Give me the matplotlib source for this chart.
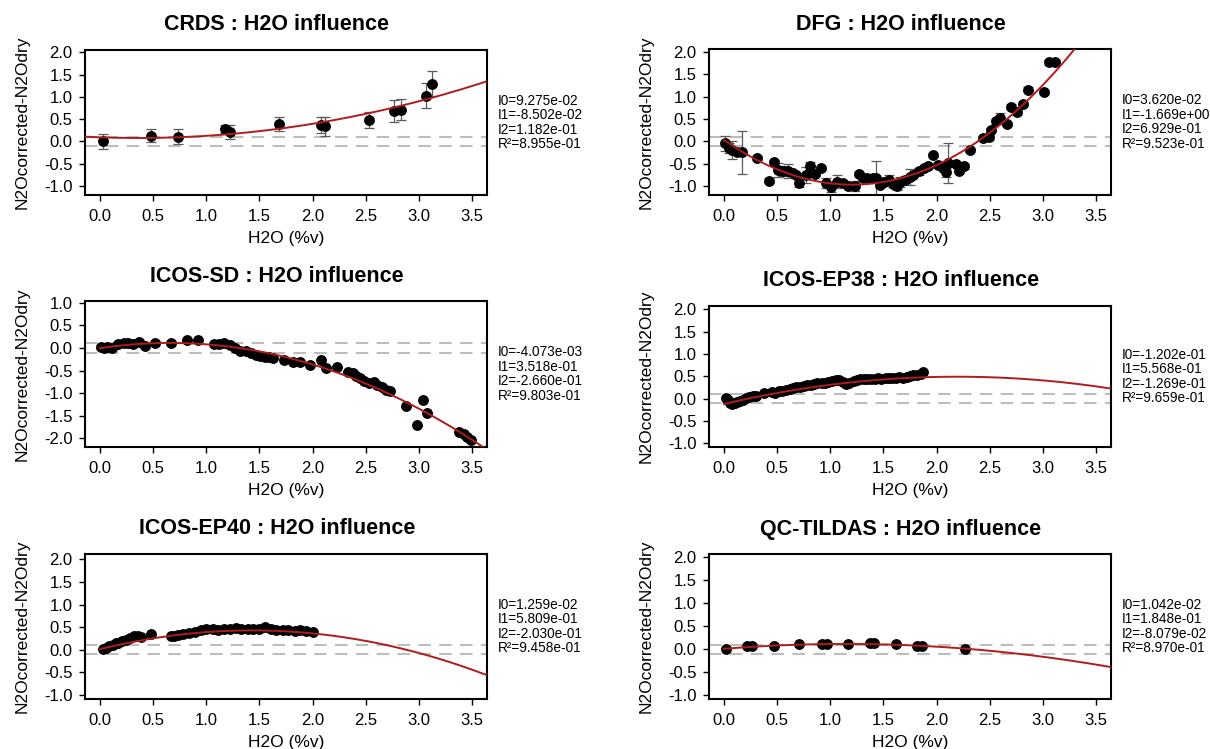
import numpy as np
import matplotlib
matplotlib.use("Agg")
import matplotlib.pyplot as plt

plt.rcParams['font.family'] = ['Liberation Sans', 'DejaVu Sans']

# ---------------- data ----------------
titles = ["CRDS : H2O influence", "DFG : H2O influence", "ICOS-SD : H2O influence",
          "ICOS-EP38 : H2O influence", "ICOS-EP40 : H2O influence", "QC-TILDAS : H2O influence"]

coef_text = [
    ["I0=9.275e-02", "I1=-8.502e-02", "I2=1.182e-01", "R\u00b2=8.955e-01"],
    ["I0=3.620e-02", "I1=-1.669e+00", "I2=6.929e-01", "R\u00b2=9.523e-01"],
    ["I0=-4.073e-03", "I1=3.518e-01", "I2=-2.660e-01", "R\u00b2=9.803e-01"],
    ["I0=-1.202e-01", "I1=5.568e-01", "I2=-1.269e-01", "R\u00b2=9.659e-01"],
    ["I0=1.259e-02", "I1=5.809e-01", "I2=-2.030e-01", "R\u00b2=9.458e-01"],
    ["I0=1.042e-02", "I1=1.848e-01", "I2=-8.079e-02", "R\u00b2=8.970e-01"],
]
# fit coefficients (I0, I1, I2)
I0 = [9.275e-02, 3.620e-02, -4.073e-03, -1.202e-01, 1.259e-02, 1.042e-02]
I1 = [-8.502e-02, -1.669e+00, 3.518e-01, 5.568e-01, 5.809e-01, 1.848e-01]
I2 = [1.182e-01, 6.929e-01, -2.660e-01, -1.269e-01, -2.030e-01, -8.079e-02]

# CRDS
crds_x = [0.03, 0.48, 0.73, 1.18, 1.22, 1.68, 2.08, 2.12, 2.53, 2.77, 2.83, 3.07, 3.12]
crds_y = [0.00, 0.13, 0.11, 0.28, 0.21, 0.39, 0.37, 0.34, 0.49, 0.69, 0.71, 1.03, 1.29]
crds_e = [0.16, 0.14, 0.16, 0.10, 0.16, 0.15, 0.17, 0.21, 0.18, 0.25, 0.24, 0.29, 0.28]

# DFG
dfg_x = [0.01, 0.05, 0.08, 0.12, 0.17, 0.31, 0.42, 0.47, 0.51, 0.56, 0.60, 0.65, 0.68,
         0.71, 0.77, 0.81, 0.86, 0.91, 0.96, 1.01, 1.06, 1.12, 1.17, 1.23, 1.27, 1.31,
         1.35, 1.40, 1.43, 1.47, 1.51, 1.55, 1.59, 1.63, 1.66, 1.70, 1.75, 1.78, 1.83,
         1.88, 1.92, 1.97, 2.01, 2.06, 2.09, 2.11, 2.18, 2.21, 2.26, 2.31, 2.44, 2.49,
         2.51, 2.56, 2.60, 2.66, 2.70, 2.76, 2.81, 2.86, 3.01, 3.06, 3.11]
dfg_y = [-0.04, -0.15, -0.20, -0.24, -0.24, -0.37, -0.88, -0.47, -0.64, -0.66, -0.67,
         -0.71, -0.75, -0.93, -0.76, -0.55, -0.73, -0.60, -0.93, -1.03, -0.90, -0.93,
         -1.00, -1.00, -0.73, -0.82, -0.82, -0.81, -0.82, -0.97, -0.90, -0.86, -0.96,
         -1.00, -0.91, -0.86, -0.79, -0.75, -0.67, -0.60, -0.55, -0.31, -0.52, -0.60,
         -0.69, -0.49, -0.51, -0.66, -0.56, -0.19, 0.07, 0.09, 0.26, 0.45, 0.52, 0.39,
         0.78, 0.65, 0.84, 1.16, 1.11, 1.77, 1.77]
dfg_e = [0.17, 0.12, 0.20, 0.05, 0.48, 0.05, 0.05, 0.05, 0.15, 0.12, 0.16, 0.05, 0.05,
         0.08, 0.18, 0.08, 0.05, 0.05, 0.12, 0.10, 0.15, 0.05, 0.05, 0.12, 0.05, 0.05,
         0.05, 0.05, 0.38, 0.05, 0.08, 0.10, 0.05, 0.08, 0.12, 0.08, 0.18, 0.05, 0.08,
         0.05, 0.05, 0.05, 0.05, 0.05, 0.10, 0.45, 0.05, 0.05, 0.05, 0.05, 0.05, 0.05,
         0.05, 0.05, 0.12, 0.05, 0.05, 0.05, 0.05, 0.05, 0.05, 0.05, 0.05]

# ICOS-SD
sd_x = [0.01, 0.04, 0.07, 0.11, 0.17, 0.23, 0.26, 0.31, 0.37, 0.42, 0.52, 0.67, 0.82,
        0.92, 1.07, 1.12, 1.17, 1.22, 1.27, 1.32, 1.37, 1.42, 1.47, 1.51, 1.55, 1.59,
        1.63, 1.73, 1.82, 1.88, 1.98, 2.08, 2.13, 2.23, 2.33, 2.38, 2.41, 2.45, 2.48,
        2.53, 2.58, 2.61, 2.65, 2.69, 2.73, 2.88, 2.98, 3.04, 3.08, 3.38, 3.42, 3.45, 3.49]
sd_y = [0.02, -0.01, 0.02, -0.01, 0.09, 0.10, 0.11, 0.09, 0.14, 0.05, 0.11, 0.11, 0.18,
        0.18, 0.09, 0.09, 0.11, 0.07, -0.01, -0.06, -0.07, -0.11, -0.15, -0.17, -0.19,
        -0.20, -0.23, -0.26, -0.31, -0.30, -0.38, -0.26, -0.45, -0.41, -0.53, -0.56,
        -0.61, -0.66, -0.74, -0.77, -0.76, -0.81, -0.86, -0.92, -0.96, -1.28, -1.71,
        -1.16, -1.43, -1.86, -1.90, -1.96, -2.03]
sd_e = [0.04] * 12 + [0.0] * 41

# ICOS-EP38
ep38_x = [0.02, 0.04, 0.06, 0.08, 0.10, 0.12, 0.15, 0.18, 0.21, 0.24, 0.27, 0.30, 0.38,
          0.45, 0.48, 0.52, 0.55, 0.58, 0.62, 0.65, 0.68, 0.72, 0.75, 0.78, 0.82, 0.85,
          0.88, 0.92, 0.95, 0.98, 1.02, 1.05, 1.08, 1.12, 1.15, 1.18, 1.22, 1.25, 1.28,
          1.32, 1.35, 1.38, 1.42, 1.45, 1.48, 1.52, 1.55, 1.58, 1.62, 1.65, 1.68, 1.72,
          1.75, 1.78, 1.82, 1.85, 1.87]
ep38_y = [0.02, -0.04, -0.10, -0.12, -0.10, -0.07, -0.05, -0.02, 0.01, 0.03, 0.05, 0.06,
          0.12, 0.14, 0.13, 0.16, 0.17, 0.19, 0.21, 0.23, 0.25, 0.27, 0.29, 0.30, 0.31,
          0.33, 0.34, 0.35, 0.36, 0.37, 0.39, 0.41, 0.42, 0.38, 0.33, 0.35, 0.40, 0.42,
          0.43, 0.44, 0.43, 0.45, 0.44, 0.46, 0.45, 0.46, 0.47, 0.46, 0.47, 0.48, 0.47,
          0.49, 0.50, 0.52, 0.53, 0.56, 0.59]

# ICOS-EP40
ep40_x = [0.03, 0.06, 0.09, 0.12, 0.15, 0.17, 0.21, 0.25, 0.28, 0.32, 0.36, 0.39, 0.48,
          0.67, 0.70, 0.73, 0.78, 0.84, 0.89, 0.95, 1.00, 1.06, 1.11, 1.17, 1.22, 1.28,
          1.33, 1.39, 1.44, 1.50, 1.55, 1.61, 1.66, 1.72, 1.77, 1.83, 1.88, 1.94, 2.00]
ep40_y = [0.02, 0.05, 0.08, 0.11, 0.15, 0.16, 0.19, 0.22, 0.26, 0.31, 0.30, 0.28, 0.34,
          0.30, 0.31, 0.33, 0.35, 0.37, 0.39, 0.43, 0.45, 0.46, 0.43, 0.45, 0.47, 0.49,
          0.47, 0.46, 0.45, 0.46, 0.50, 0.46, 0.44, 0.43, 0.44, 0.42, 0.44, 0.42, 0.39]

# QC-TILDAS
qc_x = [0.02, 0.22, 0.26, 0.47, 0.71, 0.92, 0.97, 1.17, 1.37, 1.41, 1.62, 1.82, 1.86, 2.27]
qc_y = [0.01, 0.07, 0.08, 0.08, 0.11, 0.12, 0.12, 0.12, 0.13, 0.13, 0.12, 0.08, 0.08, 0.00]

xs = [crds_x, dfg_x, sd_x, ep38_x, ep40_x, qc_x]
ys = [crds_y, dfg_y, sd_y, ep38_y, ep40_y, qc_y]
errs = [crds_e, dfg_e, sd_e, None, None, None]

x_ticks = [0.0, 0.5, 1.0, 1.5, 2.0, 2.5, 3.0, 3.5]
ylims = [(-1.2, 2.05), (-1.2, 2.07), (-2.19, 1.04), (-1.08, 2.07), (-1.09, 2.12), (-1.08, 2.07)]
yticks = [[-1.0, -0.5, 0.0, 0.5, 1.0, 1.5, 2.0],
          [-1.0, -0.5, 0.0, 0.5, 1.0, 1.5, 2.0],
          [-2.0, -1.5, -1.0, -0.5, 0.0, 0.5, 1.0],
          [-1.0, -0.5, 0.0, 0.5, 1.0, 1.5, 2.0],
          [-1.0, -0.5, 0.0, 0.5, 1.0, 1.5, 2.0],
          [-1.0, -0.5, 0.0, 0.5, 1.0, 1.5, 2.0]]
curve_start = [-0.14, 0.0, 0.0, 0.0, 0.0, 0.0]

# ---------------- layout (pixels) ----------------
W, H = 1210, 749
boxes = [(85, 50, 487, 195), (709, 49, 1111, 195),
         (85, 301, 487, 447), (709, 306, 1111, 447),
         (85, 554, 487, 699), (709, 554, 1111, 699)]

fig = plt.figure(figsize=(W / 100, H / 100), dpi=100)
fig.patch.set_facecolor("white")

for i in range(6):
    x0, y0, x1, y1 = boxes[i]
    wpx, hpx = x1 - x0, y1 - y0
    ax = fig.add_axes([x0 / W, 1 - y1 / H, wpx / W, hpx / H])
    xlim = (-0.14, 3.64)
    ax.set_xlim(*xlim)
    ax.set_ylim(*ylims[i])

    # tolerance lines
    for lv in (0.1, -0.1):
        ax.axhline(lv, color="#bdbdbd", lw=1.5, dashes=(6, 4), zorder=1)

    # error bars
    if errs[i] is not None:
        ax.errorbar(xs[i], ys[i], yerr=errs[i], fmt="none", ecolor="#5a5a5a",
                    elinewidth=0.9, capsize=3.5, capthick=0.9, zorder=2)
    ax.plot(xs[i], ys[i], "o", color="black", ms=6.8, zorder=3)

    xx = np.linspace(curve_start[i], xlim[1], 300)
    yy = I0[i] + I1[i] * xx + I2[i] * xx ** 2
    ax.plot(xx, yy, color="#b01c1c", lw=1.4, zorder=4)

    ax.set_xticks(x_ticks)
    ax.set_xticklabels([f"{t:.1f}" for t in x_ticks])
    ax.set_yticks(yticks[i])
    ax.set_yticklabels([f"{t:.1f}" for t in yticks[i]])
    ax.tick_params(axis="both", direction="out", length=4, width=1, labelsize=12,
                   colors="black")
    ax.tick_params(axis="x", pad=6)
    ax.tick_params(axis="y", pad=5)
    for sp in ax.spines.values():
        sp.set_linewidth(1.5)
        sp.set_color("black")

    # title
    ax.text(0.5 - 9 / wpx, 1 + 25 / hpx, titles[i], transform=ax.transAxes,
            ha="center", va="center", fontsize=15.5, fontweight="bold")
    # axis labels
    ax.text(0.5, -43 / hpx, "H2O (%v)", transform=ax.transAxes,
            ha="center", va="center", fontsize=12.5)
    ax.text(-63 / wpx, 0.5, "N2Ocorrected-N2Odry", transform=ax.transAxes,
            ha="center", va="center", rotation=90, fontsize=12.5)
    # coefficient text
    offs = [-21.75, -7.25, 7.25, 21.75]
    for k, s in enumerate(coef_text[i]):
        ax.text(1 + 11 / wpx, 0.5 - offs[k] / hpx, s, transform=ax.transAxes,
                ha="left", va="center", fontsize=9.8)

fig.savefig("out.png", dpi=100, facecolor="white")
